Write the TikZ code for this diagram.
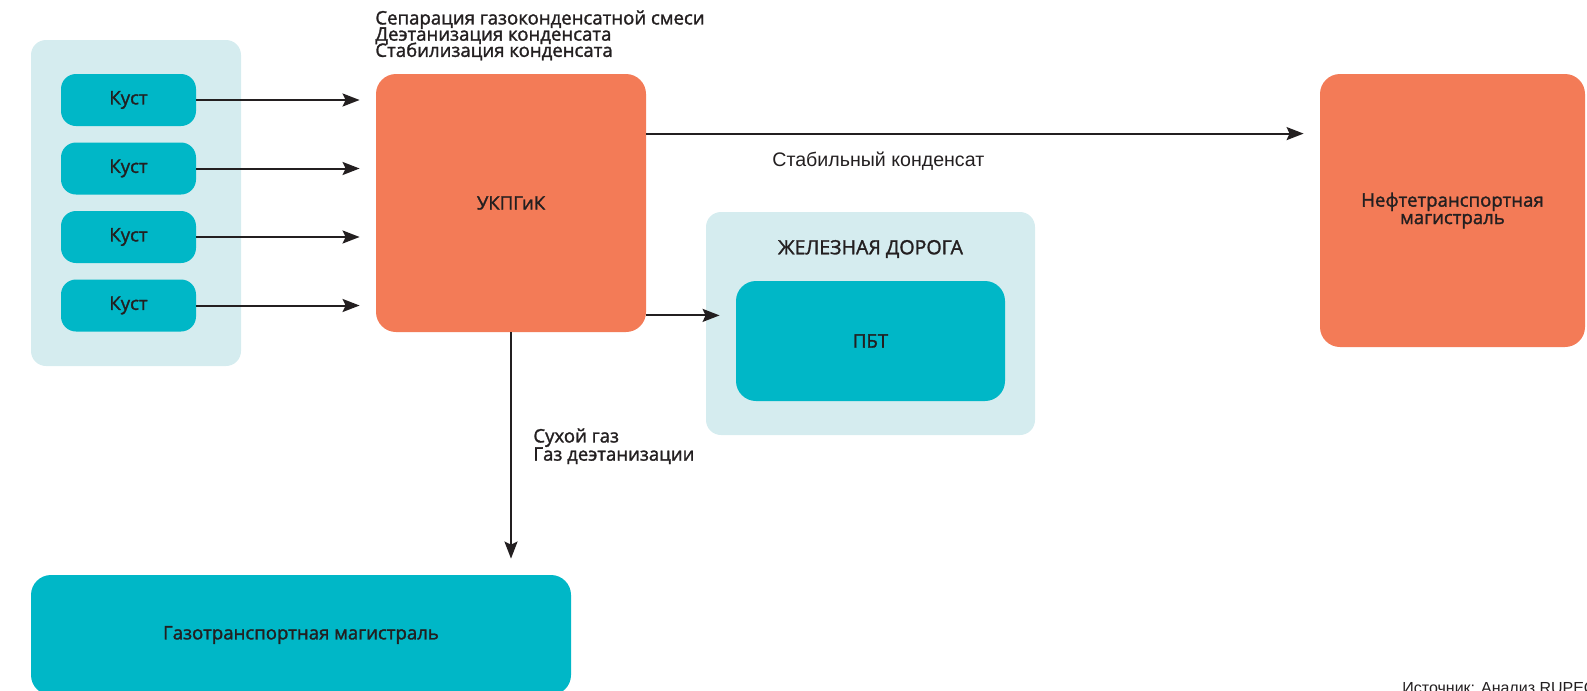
\documentclass[tikz,border=0pt]{standalone}
\usepackage{fontspec}
\setmainfont{Open Sans}[FakeBold=1.5]
\newfontfamily\arialfont{Liberation Sans}
\usetikzlibrary{arrows.meta,positioning}
\definecolor{orangebox}{HTML}{F37B57}
\definecolor{tealbox}{HTML}{00B7C7}
\definecolor{lightbox}{HTML}{D5ECEF}
\definecolor{ink}{HTML}{231F20}
\newcommand\tightlines{\lineskiplimit=-20pt\relax}
\tikzset{
  unit/.style={fill=#1, rounded corners=7.5pt, inner sep=0pt, text=ink, align=center,
    font=\fontsize{9.3}{8.7}\selectfont\tightlines},
  panel/.style={fill=lightbox, rounded corners=7.5pt, inner sep=0pt},
  lbl/.style={text=ink, align=left, inner sep=0pt, font=\fontsize{9.3}{8.1}\selectfont\tightlines},
  flow/.style={draw=ink, line width=1pt, shorten >=8pt,
    -{Stealth[length=8.5pt,width=6.5pt,inset=1.5pt]}}
}
\begin{document}
\begin{tikzpicture}[x=0.5pt,y=-0.5pt]
            \useasboundingbox (0,0) rectangle (1587,691);
            % groups
            \node[panel, minimum width=105pt, minimum height=163pt] (kusty) at (136,203) {};
            \node[panel, minimum width=164.5pt, minimum height=111.5pt] (rail) at (870.5,323.5) {};
            % units
            \foreach \y [count=\i] in {100,168.5,237,305.5}
                \node[unit=tealbox, minimum width=67.5pt, minimum height=26pt] (k\i) at (128.5,\y) {Куст};
            \node[unit=orangebox, rounded corners=10pt, minimum width=135pt, minimum height=129pt] (ukpg) at (511,203) {УКПГиК};
            \node[unit=orangebox, rounded corners=10pt, minimum width=132.5pt, minimum height=136.5pt] (neft) at (1452.5,210.5) {Нефтетранспортная\\магистраль};
            \node[unit=tealbox, rounded corners=10pt, minimum width=134.5pt, minimum height=60pt] (pbt) at (870.5,341) {ПБТ};
            \node[unit=tealbox, rounded corners=10pt, minimum width=270pt, minimum height=60pt] (gas) at (301,635) {Газотранспортная магистраль};
            \node[lbl, font=\fontsize{9.8}{10}\selectfont] (railname) at (870.5,249) {ЖЕЛЕЗНАЯ ДОРОГА};
            % flows
            \foreach \i in {1,...,4}
                \draw[flow] (k\i.east) -- (k\i.east -| ukpg.west);
            \draw[flow] ([yshift=-30pt]ukpg.north east) coordinate (cond) -- (cond -| neft.west);
            \draw[flow] ([yshift=8.5pt]ukpg.south east) coordinate (toPbt) -- (toPbt -| pbt.west);
            \draw[flow] (ukpg.south) -- (ukpg.south |- gas.north);
            % labels
            \node[lbl, anchor=north west] (ops) at (375,10) {Сепарация газоконденсатной смеси\\Деэтанизация конденсата\\Стабилизация конденсата};
            \node[lbl, anchor=west, font=\arialfont\fontsize{9.8}{11}\selectfont] (stab) at (772,161) {Стабильный конденсат};
            \node[lbl, anchor=north west, font=\fontsize{9.3}{9.1}\selectfont\tightlines] (dry) at (533,428) {Сухой газ\\Газ деэтанизации};
            \node[lbl, anchor=north west, font=\arialfont\fontsize{8}{9}\selectfont] (src) at (1402,682) {Источник: Анализ RUPEC};
        \end{tikzpicture}
\end{document}
